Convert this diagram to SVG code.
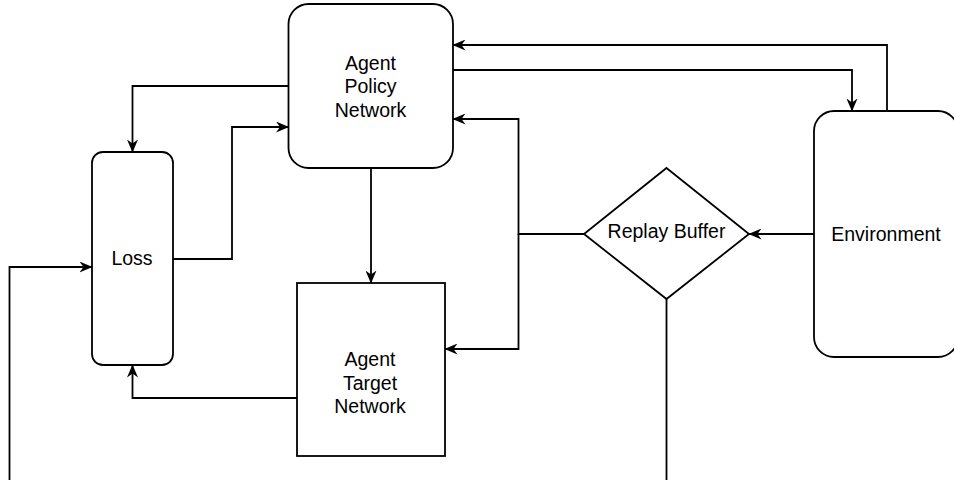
<svg xmlns="http://www.w3.org/2000/svg" width="954" height="480" viewBox="0 0 954 480">
  <style>
    .node { fill: #ffffff; stroke: #000000; stroke-width: 1.8; }
    .lbl { font-family: "Liberation Sans", Arial, Helvetica, sans-serif; font-size: 19.5px; fill: #000000; text-anchor: middle; }
    .edge { fill: none; stroke: #000000; stroke-width: 1.8; }
    .arr { marker-end: url(#arrow); }
  </style>
  <defs>
    <marker id="arrow" viewBox="0 0 13 11" refX="12.5" refY="5.5" markerWidth="13" markerHeight="11" orient="auto" markerUnits="userSpaceOnUse">
      <path d="M0,0 L13,5.5 L0,11 L4,5.5 Z" fill="#000000"/>
    </marker>
  </defs>
  <rect width="954" height="480" fill="#ffffff"/>

  <g id="connectors">
    <path class="edge arr" d="M288.5,86 H132.5 V152"/>
    <path class="edge arr" d="M173,259 H232 V127 H288.5"/>
    <path class="edge arr" d="M371,168 V283"/>
    <path class="edge arr" d="M297,398 H132.5 V365"/>
    <path class="edge arr" d="M584,234 H518.5 V119 H453"/>
    <path class="edge arr" d="M518.5,234 V349 H445"/>
    <path class="edge arr" d="M814,234 H749"/>
    <path class="edge arr" d="M887,111 V45 H453"/>
    <path class="edge arr" d="M453,70 H852 V111"/>
    <path class="edge" d="M666.5,299 V480"/>
    <path class="edge arr" d="M9.5,480 V267 H92"/>
  </g>

  <g id="policy">
    <rect class="node" x="288.5" y="4" width="164.5" height="164" rx="20" ry="20"/>
    <text class="lbl" x="370.5" y="69.5">Agent</text>
    <text class="lbl" x="370.5" y="93">Policy</text>
    <text class="lbl" x="370.5" y="116.5">Network</text>
  </g>

  <g id="loss">
    <rect class="node" x="92" y="152" width="81" height="213" rx="11" ry="11"/>
    <text class="lbl" x="132" y="265">Loss</text>
  </g>

  <g id="target">
    <rect class="node" x="297" y="283" width="148" height="173"/>
    <text class="lbl" x="370" y="366">Agent</text>
    <text class="lbl" x="370" y="389.5">Target</text>
    <text class="lbl" x="370" y="413">Network</text>
  </g>

  <g id="replay">
    <polygon class="node" points="666.5,168 749,234 666.5,299 584,234"/>
    <text class="lbl" x="666.5" y="237.5">Replay Buffer</text>
  </g>

  <g id="environment">
    <rect class="node" x="814" y="111" width="144" height="246" rx="20" ry="20"/>
    <text class="lbl" x="886" y="240.5">Environment</text>
  </g>
</svg>
